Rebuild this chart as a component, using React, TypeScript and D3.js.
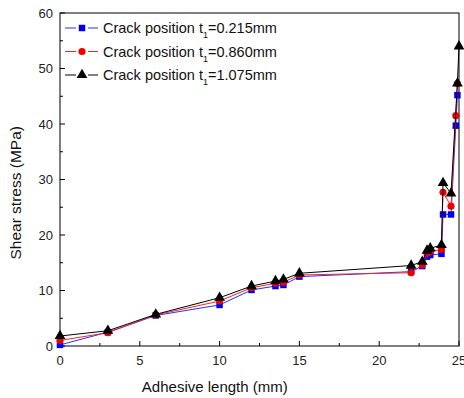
import React, { useEffect, useRef } from "react";
import * as d3 from "d3";

// series (adhesive length mm -> shear stress MPa)
const xBlue = [0, 3, 6, 10, 12, 13.5, 14, 15, 22, 22.7, 23, 23.2, 23.9, 24, 24.5, 24.8, 24.9];
const yBlue = [0.2, 2.5, 5.5, 7.4, 10.1, 10.8, 11.0, 12.5, 13.4, 14.4, 16.1, 16.4, 16.6, 23.7, 23.7, 39.7, 45.2];

const xRed = [0, 3, 6, 10, 12, 13.5, 14, 15, 22, 22.7, 23, 23.2, 23.9, 24, 24.5, 24.8, 24.9];
const yRed = [1.0, 2.4, 5.6, 8.1, 10.5, 11.3, 11.5, 12.8, 13.2, 14.6, 16.7, 17.0, 17.4, 27.7, 25.2, 41.5, 47.3];

const xBlack = [0, 3, 6, 10, 12, 13.5, 14, 15, 22, 22.7, 23, 23.2, 23.9, 24, 24.5, 24.9, 25];
const yBlack = [1.8, 2.75, 5.7, 8.7, 10.8, 11.7, 12.0, 13.1, 14.5, 15.2, 17.2, 17.6, 18.2, 29.4, 27.5, 47.3, 54];

const legendValues = ["0.215", "0.860", "1.075"];
const xTicks = [0, 5, 10, 15, 20, 25];
const yTicks = [0, 10, 20, 30, 40, 50, 60];

const font = "Liberation Sans, Arial, sans-serif";

const App = () => {
  const ref = useRef<SVGSVGElement>(null);

  useEffect(() => {
    const svg = d3.select(ref.current);
    svg.selectAll("*").remove();

    const margin = { top: 13, right: 5, bottom: 52, left: 60 };
    const width = 464 - margin.left - margin.right;
    const height = 398 - margin.top - margin.bottom;

    const x = d3.scaleLinear().domain([0, 25]).range([0, width]);
    const y = d3.scaleLinear().domain([0, 60]).range([height, 0]);

    const g = svg.append("g").attr("transform", `translate(${margin.left},${margin.top})`);

    // frame
    g.append("rect")
      .attr("width", width)
      .attr("height", height)
      .attr("fill", "none")
      .attr("stroke", "#000")
      .attr("stroke-width", 1);

    // ticks (inside)
    const xMinor = d3.range(2.5, 25, 5);
    const yMinor = d3.range(5, 60, 10);
    g.selectAll(".xt").data(xTicks).enter().append("line")
      .attr("x1", d => x(d)).attr("x2", d => x(d))
      .attr("y1", height).attr("y2", height - 5).attr("stroke", "#000");
    g.selectAll(".xm").data(xMinor).enter().append("line")
      .attr("x1", d => x(d)).attr("x2", d => x(d))
      .attr("y1", height).attr("y2", height - 3).attr("stroke", "#000");
    g.selectAll(".yt").data(yTicks).enter().append("line")
      .attr("x1", 0).attr("x2", 5)
      .attr("y1", d => y(d)).attr("y2", d => y(d)).attr("stroke", "#000");
    g.selectAll(".ym").data(yMinor).enter().append("line")
      .attr("x1", 0).attr("x2", 3)
      .attr("y1", d => y(d)).attr("y2", d => y(d)).attr("stroke", "#000");

    // tick labels
    g.selectAll(".xl").data(xTicks).enter().append("text")
      .attr("x", d => x(d)).attr("y", height + 19)
      .attr("text-anchor", "middle")
      .attr("font-family", font).attr("font-size", 13).attr("fill", "#222")
      .text(d => d);
    g.selectAll(".yl").data(yTicks).enter().append("text")
      .attr("x", -7).attr("y", d => y(d)).attr("dy", "0.35em")
      .attr("text-anchor", "end")
      .attr("font-family", font).attr("font-size", 13).attr("fill", "#222")
      .text(d => d);

    // axis titles
    g.append("text")
      .attr("x", x(9.7)).attr("y", height + 46)
      .attr("text-anchor", "middle")
      .attr("font-family", font).attr("font-size", 15).attr("fill", "#111")
      .text("Adhesive length (mm)");
    g.append("text")
      .attr("transform", `translate(${-39},${y(27.6)}) rotate(-90)`)
      .attr("text-anchor", "middle")
      .attr("font-family", font).attr("font-size", 15.5).attr("fill", "#111")
      .text("Shear stress (MPa)");

    const series = [
      { xs: xBlue, ys: yBlue, color: "#2233ff", fill: "#0000ee", shape: d3.symbolSquare, size: 42 },
      { xs: xRed, ys: yRed, color: "#ff2222", fill: "#ee0000", shape: d3.symbolCircle, size: 40 },
      { xs: xBlack, ys: yBlack, color: "#000", fill: "#000", shape: d3.symbolTriangle, size: 50 },
    ];

    const line = d3.line<[number, number]>().x(d => x(d[0])).y(d => y(d[1]));

    series.forEach(s => {
      const pts: [number, number][] = s.xs.map((v, i) => [v, s.ys[i]]);
      g.append("path")
        .attr("d", line(pts))
        .attr("fill", "none")
        .attr("stroke", s.color)
        .attr("stroke-width", 1);
      g.selectAll(null).data(pts).enter().append("path")
        .attr("transform", d => `translate(${x(d[0])},${y(d[1])})`)
        .attr("d", d3.symbol().type(s.shape).size(s.size)())
        .attr("fill", s.fill);
    });

    // legend
    const legend = g.append("g");
    series.forEach((s, i) => {
      const ly = 15 + i * 23.5;
      legend.append("line")
        .attr("x1", 5).attr("x2", 16).attr("y1", ly).attr("y2", ly)
        .attr("stroke", s.color);
      legend.append("line")
        .attr("x1", 28).attr("x2", 38).attr("y1", ly).attr("y2", ly)
        .attr("stroke", s.color);
      legend.append("path")
        .attr("transform", `translate(22,${ly})`)
        .attr("d", d3.symbol().type(s.shape).size(s.size)())
        .attr("fill", s.fill);
      const t = legend.append("text")
        .attr("x", 43).attr("y", ly).attr("dy", "0.35em")
        .attr("font-family", font).attr("font-size", 14.5).attr("fill", "#111");
      t.append("tspan").text("Crack position t");
      t.append("tspan").attr("font-size", 9).attr("dy", "5").text("1");
      t.append("tspan").attr("dy", "-5").text(`=${legendValues[i]}mm`);
    });
  }, []);

  return (
    <div style={{ position: "absolute", left: 0, top: 0 }}>
      <svg ref={ref} width={464} height={398} style={{ display: "block", background: "#fff" }}></svg>
    </div>
  );
};

export default App;
